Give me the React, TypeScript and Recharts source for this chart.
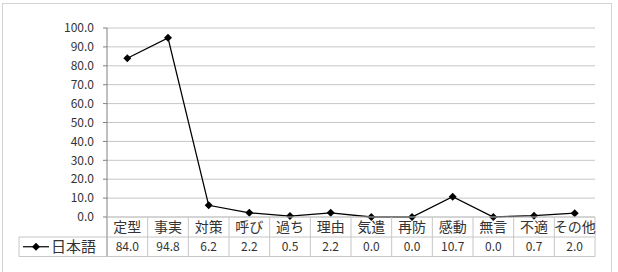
import { LineChart, Line, XAxis, YAxis, CartesianGrid } from "recharts";

const categories = ["定型", "事実", "対策", "呼び", "過ち", "理由", "気遣", "再防", "感動", "無言", "不適", "その他"];
const japaneseValues = [84.0, 94.8, 6.2, 2.2, 0.5, 2.2, 0.0, 0.0, 10.7, 0.0, 0.7, 2.0];
const yTicks = [0, 10, 20, 30, 40, 50, 60, 70, 80, 90, 100];
const seriesName = "日本語";

const FONT = "'Noto Sans CJK JP', 'DejaVu Sans', sans-serif";
const PLOT_LEFT = 107;
const PLOT_RIGHT = 595;
const ROW_H = 19.5;
const LEGEND_LEFT = 19;
const TEXT = "#333";
const BORDER = "#c6c6c6";

const data = categories.map((name, i) => ({ name, value: japaneseValues[i] }));

function Diamond(props: any) {
  const { cx, cy } = props;
  if (cx == null || cy == null) return null;
  const r = 4;
  return (
    <polygon
      points={`${cx},${cy - r} ${cx + r},${cy} ${cx},${cy + r} ${cx - r},${cy}`}
      fill="#000"
    />
  );
}

function TableTick(props: any) {
  const { x, y, payload, index } = props;
  const w = (PLOT_RIGHT - PLOT_LEFT) / categories.length;
  const left = x - w / 2;
  const top = y;
  const mid = top + ROW_H + 0.5;
  const bottom = mid + ROW_H;
  const isLast = index === categories.length - 1;
  return (
    <g>
      {index === 0 && (
        <g>
          <line x1={LEGEND_LEFT} y1={mid} x2={left} y2={mid} stroke={BORDER} />
          <line x1={LEGEND_LEFT} y1={bottom} x2={left} y2={bottom} stroke={BORDER} />
          <line x1={LEGEND_LEFT} y1={mid} x2={LEGEND_LEFT} y2={bottom} stroke={BORDER} />
          <line x1={23} y1={(mid + bottom) / 2} x2={49} y2={(mid + bottom) / 2} stroke="#000" strokeWidth={1.2} />
          <Diamond cx={36} cy={(mid + bottom) / 2} />
          <text
            x={51}
            y={(mid + bottom) / 2}
            dy="0.36em"
            fontSize={15}
            fontFamily={FONT}
            fill={TEXT}
          >
            {seriesName}
          </text>
        </g>
      )}
      <line x1={left} y1={top} x2={left} y2={bottom} stroke={index === 0 ? "#808080" : BORDER} />
      {isLast && <line x1={left + w} y1={top} x2={left + w} y2={bottom} stroke={BORDER} />}
      <line x1={left} y1={top} x2={left + w} y2={top} stroke={BORDER} />
      <line x1={left} y1={mid} x2={left + w} y2={mid} stroke={BORDER} />
      <line x1={left} y1={bottom} x2={left + w} y2={bottom} stroke={BORDER} />
      <text
        x={x}
        y={(top + mid) / 2}
        dy="0.36em"
        textAnchor="middle"
        fontSize={14}
        fontFamily={FONT}
        fill={TEXT}
      >
        {payload.value}
      </text>
      <text
        x={x}
        y={(mid + bottom) / 2}
        dy="0.36em"
        textAnchor="middle"
        fontSize={12}
        fontFamily={FONT}
        fill={TEXT}
      >
        {japaneseValues[index].toFixed(1)}
      </text>
    </g>
  );
}

export default function App() {
  return (
    <div style={{ position: "absolute", left: 0, top: 0, width: 618, height: 272, background: "#fff", overflow: "hidden" }}>
      <div
        style={{
          position: "absolute",
          left: 2,
          top: 3,
          width: 610,
          height: 280,
          border: "1px solid #d4d4d4",
          boxSizing: "border-box",
        }}
      />
      <LineChart
        width={618}
        height={272}
        data={data}
        margin={{ top: 28, right: 618 - PLOT_RIGHT, bottom: 15, left: 0 }}
        style={{ position: "absolute", left: 0, top: 0 }}
      >
        <CartesianGrid vertical={false} stroke={BORDER} />
        <XAxis
          dataKey="name"
          scale="band"
          height={40}
          axisLine={false}
          tickLine={false}
          tickSize={0}
          tickMargin={0}
          interval={0}
          tick={<TableTick />}
        />
        <YAxis
          width={PLOT_LEFT}
          domain={[0, 100]}
          ticks={yTicks}
          interval={0}
          tickFormatter={(v: number) => v.toFixed(1)}
          axisLine={{ stroke: "#808080" }}
          tickLine={{ stroke: "#808080" }}
          tickSize={4}
          tickMargin={9}
          tick={{ fontSize: 12, fill: TEXT, fontFamily: FONT }}
        />
        <Line
          type="linear"
          dataKey="value"
          stroke="#000"
          strokeWidth={1.3}
          dot={<Diamond />}
          activeDot={false}
          isAnimationActive={false}
        />
      </LineChart>
    </div>
  );
}
